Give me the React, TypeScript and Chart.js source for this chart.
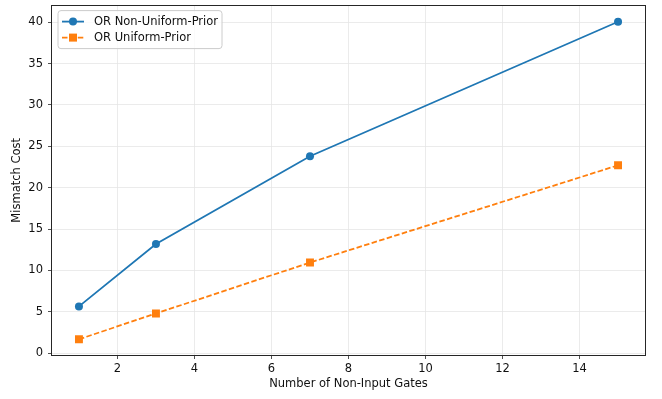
import React, { useEffect, useRef } from "react";
import { Chart, registerables } from "chart.js";

Chart.register(...registerables);

const gateCounts = [1, 3, 7, 15];
const nonUniformPrior = [5.65, 13.2, 23.8, 40.05];
const uniformPrior = [1.68, 4.8, 10.95, 22.7];
const xTickValues = [2, 4, 6, 8, 10, 12, 14];
const yTickValues = [0, 5, 10, 15, 20, 25, 30, 35, 40];
const seriesLabels = ["OR Non-Uniform-Prior", "OR Uniform-Prior"];

const BLUE = "#1f77b4";
const ORANGE = "#ff7f0e";
const FONT = "'DejaVu Sans', sans-serif";
const TEXT = "#111111";
const FS = 11.5;

const framePlugin = {
  id: "frameAndLegend",
  afterDraw(chart: any) {
    const { ctx, chartArea } = chart;
    const { left, top, right, bottom } = chartArea;
    ctx.save();
    ctx.strokeStyle = "#262626";
    ctx.lineWidth = 1;
    ctx.strokeRect(Math.round(left) - 0.5, Math.round(top) - 0.5, Math.round(right - left) + 1, Math.round(bottom - top) + 1);

    // legend
    const bx = left + 6, by = top + 5, bw = 164, bh = 38, r = 3;
    ctx.beginPath();
    ctx.moveTo(bx + r, by);
    ctx.lineTo(bx + bw - r, by);
    ctx.quadraticCurveTo(bx + bw, by, bx + bw, by + r);
    ctx.lineTo(bx + bw, by + bh - r);
    ctx.quadraticCurveTo(bx + bw, by + bh, bx + bw - r, by + bh);
    ctx.lineTo(bx + r, by + bh);
    ctx.quadraticCurveTo(bx, by + bh, bx, by + bh - r);
    ctx.lineTo(bx, by + r);
    ctx.quadraticCurveTo(bx, by, bx + r, by);
    ctx.closePath();
    ctx.fillStyle = "rgba(255,255,255,0.8)";
    ctx.fill();
    ctx.strokeStyle = "#cccccc";
    ctx.stroke();

    const rows = [
      { y: by + 11, color: BLUE, dash: [], marker: "circle", label: seriesLabels[0] },
      { y: by + 27, color: ORANGE, dash: [5.5, 2.4], marker: "square", label: seriesLabels[1] },
    ];
    ctx.font = `${FS}px ${FONT}`;
    ctx.textBaseline = "middle";
    for (const row of rows) {
      ctx.beginPath();
      ctx.setLineDash(row.dash);
      ctx.strokeStyle = row.color;
      ctx.lineWidth = 1.8;
      ctx.moveTo(bx + 4, row.y);
      ctx.lineTo(bx + 26, row.y);
      ctx.stroke();
      ctx.setLineDash([]);
      ctx.fillStyle = row.color;
      if (row.marker === "circle") {
        ctx.beginPath();
        ctx.arc(bx + 15, row.y, 4, 0, Math.PI * 2);
        ctx.fill();
      } else {
        ctx.fillRect(bx + 15 - 4, row.y - 4, 8, 8);
      }
      ctx.fillStyle = TEXT;
      ctx.fillText(row.label, bx + 36, row.y + 0.5);
    }
    ctx.restore();
  },
};

export default function App() {
  const canvasRef = useRef<HTMLCanvasElement | null>(null);

  useEffect(() => {
    document.body.style.margin = "0";
    const canvas = canvasRef.current;
    if (!canvas) return;
    const chart = new Chart(canvas, {
      type: "line",
      data: {
        datasets: [
          {
            label: seriesLabels[0],
            data: gateCounts.map((x, i) => ({ x, y: nonUniformPrior[i] })),
            borderColor: BLUE,
            backgroundColor: BLUE,
            borderWidth: 1.8,
            pointStyle: "circle",
            pointRadius: 4,
            pointHoverRadius: 4,
            pointBorderWidth: 0,
            tension: 0,
          },
          {
            label: seriesLabels[1],
            data: gateCounts.map((x, i) => ({ x, y: uniformPrior[i] })),
            borderColor: ORANGE,
            backgroundColor: ORANGE,
            borderWidth: 1.8,
            borderDash: [5.5, 2.4],
            pointStyle: "rect",
            pointRadius: 5.6,
            pointHoverRadius: 5.6,
            pointBorderWidth: 0,
            tension: 0,
          },
        ],
      },
      options: {
        animation: false,
        responsive: false,
        maintainAspectRatio: false,
        layout: { padding: { left: 0, right: 17, top: 4, bottom: 0 } },
        plugins: { legend: { display: false }, tooltip: { enabled: false } },
        scales: {
          x: {
            type: "linear",
            min: 0.3,
            max: 15.7,
            afterBuildTicks: (axis: any) => {
              axis.ticks = xTickValues.map((v) => ({ value: v }));
            },
            afterFit: (axis: any) => {
              axis.height = 44;
              axis.paddingLeft = 0;
              axis.paddingRight = 0;
            },
            grid: { color: "#e6e6e6", lineWidth: 0.8, tickColor: "#262626", tickLength: 4, drawTicks: true },
            border: { display: false },
            ticks: { color: TEXT, font: { family: FONT, size: FS }, padding: 3, maxRotation: 0 },
            title: {
              display: true,
              text: "Number of Non-Input Gates",
              color: TEXT,
              font: { family: FONT, size: FS },
              padding: { top: 0, bottom: 8 },
            },
          },
          y: {
            type: "linear",
            min: -0.22,
            max: 42,
            afterBuildTicks: (axis: any) => {
              axis.ticks = yTickValues.map((v) => ({ value: v }));
            },
            afterFit: (axis: any) => {
              axis.width = 52;
              axis.paddingTop = 0;
              axis.paddingBottom = 0;
            },
            grid: { color: "#e6e6e6", lineWidth: 0.8, tickColor: "#262626", tickLength: 4, drawTicks: true },
            border: { display: false },
            ticks: { color: TEXT, font: { family: FONT, size: FS }, padding: 5 },
            title: {
              display: true,
              text: "Mismatch Cost",
              color: TEXT,
              font: { family: FONT, size: FS },
              padding: { top: 10, bottom: 0 },
            },
          },
        },
      },
      plugins: [framePlugin],
    } as any);
    return () => chart.destroy();
  }, []);

  return (
    <div style={{ width: 662, height: 399, position: "relative" }}>
      <canvas ref={canvasRef} width={662} height={399} style={{ display: "block" }} />
    </div>
  );
}
